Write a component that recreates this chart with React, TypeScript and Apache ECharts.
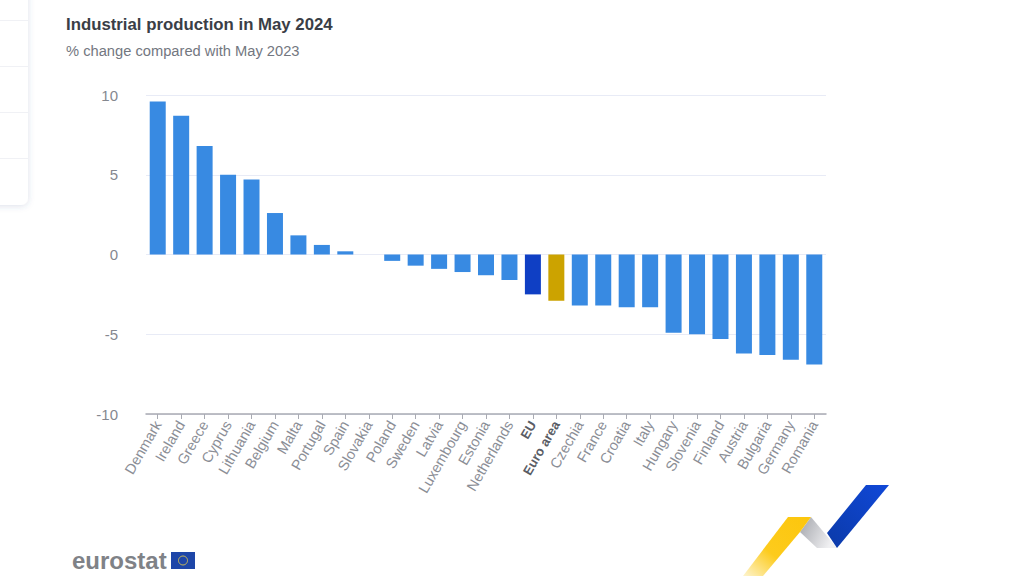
import React, { useEffect, useRef } from "react";
import * as echarts from "echarts";

const categories = ["Denmark","Ireland","Greece","Cyprus","Lithuania","Belgium","Malta","Portugal","Spain","Slovakia","Poland","Sweden","Latvia","Luxembourg","Estonia","Netherlands","EU","Euro area","Czechia","France","Croatia","Italy","Hungary","Slovenia","Finland","Austria","Bulgaria","Germany","Romania"];
const values = [9.6,8.7,6.8,5.0,4.7,2.6,1.2,0.6,0.2,0,-0.4,-0.7,-0.9,-1.1,-1.3,-1.6,-2.5,-2.9,-3.2,-3.2,-3.3,-3.3,-4.9,-5.0,-5.3,-6.2,-6.3,-6.6,-6.9];
const highlight: Record<string, string> = { EU: "#0f3fc4", "Euro area": "#cca300" };
const barColor = "#388ae2";
const font = "'Liberation Sans', Arial, sans-serif";

export default function App() {
  const ref = useRef<HTMLDivElement>(null);
  useEffect(() => {
    const chart = echarts.init(ref.current!, undefined, { renderer: "svg" });
    const yellow = new echarts.graphic.LinearGradient(1, 0, 0, 1, [
      { offset: 0, color: "#fcc60c" },
      { offset: 0.6, color: "#fdcb1c" },
      { offset: 1, color: "#fdf4d0" },
    ]);
    const grey = new echarts.graphic.LinearGradient(0, 0, 1, 0.4, [
      { offset: 0, color: "#a3a5ab" },
      { offset: 1, color: "#f0f0f2" },
    ]);
    const blue = new echarts.graphic.LinearGradient(1, 0, 0, 1, [
      { offset: 0, color: "#1048d8" },
      { offset: 1, color: "#0b3aa8" },
    ]);
    chart.setOption({
      animation: false,
      backgroundColor: "#ffffff",
      title: [
        { text: "Industrial production in May 2024", left: 66, top: 16, padding: 0, textStyle: { fontFamily: font, fontSize: 16.8, fontWeight: "bold", color: "#3a3e46" } },
        { text: "% change compared with May 2023", left: 66, top: 43, padding: 0, textStyle: { fontFamily: font, fontSize: 14.7, fontWeight: "normal", color: "#73777f" } },
      ],
      grid: { left: 146, right: 198, top: 95, bottom: 162 },
      xAxis: {
        type: "category",
        data: categories.map((c) => (highlight[c] ? { value: c, textStyle: { fontWeight: "bold", color: "#5a5d65", fontSize: 13 } } : c)),
        position: "bottom",
        axisLine: { onZero: false, lineStyle: { color: "#a9abb3", width: 1.5 } },
        axisTick: { show: true, length: 5, alignWithLabel: true, lineStyle: { color: "#a9abb3" } },
        axisLabel: { interval: 0, rotate: 60, margin: 8, fontFamily: font, fontSize: 14.5, color: "#8b8e96" },
      },
      yAxis: {
        type: "value",
        min: -10,
        max: 10,
        interval: 5,
        axisLine: { show: false },
        axisTick: { show: false },
        splitLine: { lineStyle: { color: "#e8ebf6", width: 1 } },
        axisLabel: { margin: 28, fontFamily: font, fontSize: 15, color: "#85888f", verticalAlign: "middle", lineHeight: 15, padding: [0, 0, 3, 0] },
      },
      series: [
        {
          type: "bar",
          barWidth: 16,
          data: values.map((v, i) => ({ value: v, itemStyle: { color: highlight[categories[i]] ?? barColor } })),
        },
      ],
      graphic: [
        { type: "rect", z: 5, shape: { x: -20, y: -20, width: 48, height: 225, r: 7 }, style: { fill: "#fff", shadowBlur: 6, shadowColor: "rgba(60,80,140,0.18)", shadowOffsetY: 1 } },
        ...[20, 66, 112, 158].map((y) => ({ type: "rect", z: 6, shape: { x: 0, y, width: 28, height: 1 }, style: { fill: "#f0f1f5" } })),
        { type: "text", z: 5, left: 72, top: 548, style: { text: "eurostat", fontFamily: font, fontSize: 24, fontWeight: "bold", fill: "#7f8287" } },
        { type: "rect", z: 5, shape: { x: 171, y: 552, width: 24, height: 17 }, style: { fill: "#1e46a8" } },
        { type: "circle", z: 6, shape: { cx: 183, cy: 560.5, r: 4.5 }, style: { fill: "none", stroke: "#c6b85c", lineWidth: 1 } },
        { type: "polygon", z: 5, shape: { points: [[811, 517], [800, 532], [817, 548], [837, 548]] }, style: { fill: grey } },
        { type: "polygon", z: 5, shape: { points: [[788, 517], [811, 517], [800, 532], [763, 576], [743, 576]] }, style: { fill: yellow } },
        { type: "polygon", z: 5, shape: { points: [[866, 485], [889, 485], [837, 548], [827, 533]] }, style: { fill: blue } },
      ],
    });
    return () => chart.dispose();
  }, []);
  return <div ref={ref} style={{ position: "fixed", left: 0, top: 0, width: 1024, height: 576 }} />;
}
